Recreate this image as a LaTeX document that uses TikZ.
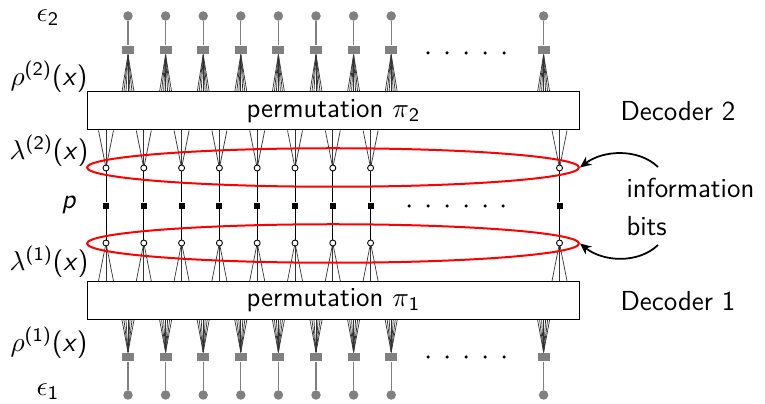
\documentclass[tikz,border=0pt]{standalone}
\usetikzlibrary{calc,arrows.meta,shapes.geometric}
\pgfdeclarelayer{bg}
\pgfsetlayers{bg,main}
\begin{document}
\begin{tikzpicture}[x=0.4pt,y=-0.4pt,
  every node/.style={font=\sffamily\fontsize{11}{15}\selectfont},
  gcirc/.style={circle,fill=gray,inner sep=0,minimum size=3.8pt},
  gsq/.style={rectangle,fill=gray,inner sep=0,minimum width=4.8pt,minimum height=3.4pt},
  wcirc/.style={circle,draw=black,fill=white,line width=0.35pt,inner sep=0,minimum size=2.4pt},
  bsq/.style={rectangle,fill=black,inner sep=0,minimum size=2.4pt},
  permbox/.style={rectangle,draw=black,line width=0.4pt,inner sep=0,minimum width=196.4pt,minimum height=15.2pt},
  redell/.style={ellipse,draw=red,line width=0.8pt,inner sep=0,minimum width=196.8pt,minimum height=15.4pt},
  fanline/.style={line width=0.28pt,black!80},
  vline/.style={line width=0.4pt,black},
  gline/.style={line width=0.45pt,gray},
  dotmark/.style={circle,fill=black,inner sep=0,minimum size=1.4pt},
  infoarrow/.style={line width=0.7pt,-{Stealth[length=4.5pt,width=4pt]}}]
\useasboundingbox (0,0) rectangle (765,404);

% permutation boxes
\node[permbox] (box2) at (333.5,111) {permutation $\pi$\textsubscript{2}};
\node[permbox] (box1) at (333.5,300.5) {permutation $\pi$\textsubscript{1}};

% red ellipses
\node[redell] (ell2) at (333,167.5) {};
\node[redell] (ell1) at (333,243.5) {};

% variable nodes, top and bottom
\foreach \x [count=\i] in {128,165.6,203.2,240.8,278.4,316,353.6,391.2,543.6} {
  \node[gcirc] (e2\i) at (\x,16) {};
  \node[gsq] (r2\i) at (\x,50) {};
  \node[gsq] (r1\i) at (\x,357) {};
  \node[gcirc] (e1\i) at (\x,395) {};
  \begin{pgfonlayer}{bg}
    \draw[gline] (e2\i) -- (r2\i);
    \draw[gline] (e1\i) -- (r1\i);
    \foreach \d in {-6,-4,-2,0,2,4,6} {
      \draw[fanline] (r2\i.south) -- ($(r2\i.south |- box2.north)+(\d,0)$);
      \draw[fanline] (r1\i.north) -- ($(r1\i.north |- box1.south)+(\d,0)$);
    }
  \end{pgfonlayer}
}

% check / information nodes, middle
\foreach \x [count=\i] in {106,143.8,181.6,219.4,257.2,295,332.8,370.6,559.5} {
  \node[wcirc] (c2\i) at (\x,168) {};
  \node[bsq] (p\i) at (\x,206) {};
  \node[wcirc] (c1\i) at (\x,243) {};
  \begin{pgfonlayer}{bg}
    \draw[vline] (c2\i) -- (p\i) -- (c1\i);
    \foreach \d in {-7.5,0,7.5} {
      \draw[fanline] (c2\i.center) -- ($(c2\i.center |- box2.south)+(\d,0)$);
      \draw[fanline] (c1\i.center) -- ($(c1\i.center |- box1.north)+(\d,0)$);
    }
  \end{pgfonlayer}
}

% ellipsis dots
\foreach \x [count=\i] in {428,447,466,485,504} {
  \node[dotmark] (dt\i) at (\x,53) {};
  \node[dotmark] (db\i) at (\x,357) {};
}
\foreach \x [count=\i] in {409,428,447,466,485,503} {
  \node[dotmark] (dm\i) at (\x,206) {};
}

% left labels
\node (leps2) at (48,18) {$\epsilon$\textsubscript{2}};
\node (lrho2) at (49,77) {$\rho$\textsuperscript{(2)}(\textit{x})};
\node (llam2) at (49,151) {$\lambda$\textsuperscript{(2)}(\textit{x})};
\node (lp) at (69,205) {\textit{p}};
\node (llam1) at (49,262) {$\lambda$\textsuperscript{(1)}(\textit{x})};
\node (lrho1) at (49,343) {$\rho$\textsuperscript{(1)}(\textit{x})};
\node (leps1) at (48,392) {$\epsilon$\textsubscript{1}};

% right labels
\node (dec2) at (678,111) {Decoder 2};
\node (dec1) at (678,301) {Decoder 1};
\node[anchor=west,align=left,inner sep=0] (info) at (626,207) {information\\bits};

% arrows
\coordinate (a2) at (658,167);
\coordinate (a1) at (658,245);
\draw[infoarrow] (a2) .. controls (638,148) and (603,150) .. (ell2.east);
\draw[infoarrow] (a1) .. controls (638,264) and (603,262) .. (ell1.east);
\end{tikzpicture}
\end{document}
